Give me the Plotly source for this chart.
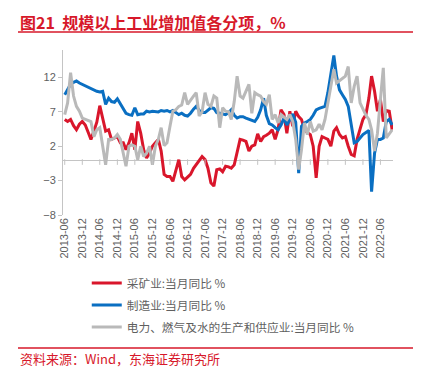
import pandas as pd
import plotly.graph_objects as go

months = [d.strftime("%Y-%m-%d") for d in pd.date_range("2013-06-01", periods=113, freq="MS")]
tick_vals = [d.strftime("%Y-%m-%d") for d in pd.date_range("2013-06-01", "2022-06-01", freq="6MS")]
tick_text = [d[:7] for d in tick_vals]

mining = [5.9, 5.6, 5.9, 5.0, 4.4, 5.2, 5.6, 5.1, 4.0, 3.0, 4.2, 5.5, 7.9, 5.9, 4.2, 4.4, 3.0, 3.2, 3.4, 2.5,
          2.5, 1.5, 2.5, 3.9, 1.5, 5.6, 3.9, 1.5, 0.3, 1.0, 2.0, 2.5, 3.0, 1.3, -2.1, -2.4, -2.4, -3.1, -1.7, 0.05,
          -2.4, -2.9, -2.5, -2.1, -1.2, -0.7, -0.2, 0.5, 0.05, -1.2, -3.3, -3.8, -1.4, -1.3, -1.7, -0.9, -1.0, -1.2, -0.7, 1.0,
          3.0, 2.9, 2.7, 1.3, 2.0, 2.2, 3.8, 2.7, 3.4, 3.6, 3.9, 4.4, 3.0, 4.4, 7.3, 6.6, 3.9, 7.1, 4.9, 7.1,
          6.3, 5.9, 4.4, 4.0, 3.7, 2.0, -2.6, 2.0, 3.4, 3.2, 3.0, 2.0, 4.2, 4.7, 3.7, 3.2, 3.4, 2.0, 0.8, 0.6,
          3.0, 4.5, 5.9, 6.6, 9.0, 12.2, 10.0, 7.1, 8.8, 5.6, 7.2, 7.1, 4.4]

manufacturing = [9.5, 10.2, 11.0, 11.3, 11.5, 11.2, 11.0, 10.7, 10.5, 10.3, 10.2, 10.0, 9.9, 10.0, 8.1, 9.0, 8.5, 8.4, 8.9, 8.1,
                 7.3, 6.8, 6.6, 6.5, 7.6, 6.6, 6.7, 6.7, 7.1, 7.0, 7.1, 7.1, 7.0, 7.2, 7.1, 7.2, 7.0, 7.2, 6.9, 6.6,
                 6.8, 6.5, 6.4, 6.8, 7.4, 7.8, 7.2, 6.9, 6.9, 7.2, 7.6, 7.5, 6.9, 6.8, 6.7, 6.6, 6.9, 7.3, 6.5, 6.1,
                 6.3, 6.3, 6.1, 5.9, 5.8, 5.6, 6.2, 7.3, 9.0, 6.5, 5.3, 5.1, 4.7, 4.4, 5.1, 6.1, 5.1, 6.0, 6.7, 5.5,
                 -1.9, 4.9, 5.4, 5.6, 5.9, 6.5, 7.3, 7.5, 7.6, 7.8, 9.8, 12.7, 15.2, 12.2, 10.2, 9.5, 8.8, 7.8, 5.4, 2.5,
                 2.7, 3.2, 3.7, 4.0, 4.3, -4.6, 1.0, 3.0, 3.0, 3.2, 5.6, 5.9, 5.1]

utilities = [6.6, 8.3, 12.7, 9.3, 7.8, 7.1, 6.1, 5.9, 5.7, 5.6, 3.4, 4.4, 4.7, 2.0, -0.7, 3.0, 3.0, 3.2, 3.7, 3.0,
             1.0, -0.9, 2.0, 2.2, 2.0, 0.05, 2.0, 0.5, 1.0, 2.0, -0.7, 2.0, 3.0, 4.7, 2.1, 2.5, 4.9, 7.1, 7.3, 7.8,
             8.0, 9.8, 8.1, 8.8, 9.3, 9.8, 6.4, 7.0, 9.8, 8.1, 7.8, 9.3, 9.0, 4.7, 7.6, 7.1, 7.0, 5.9, 8.5, 12.2,
             9.3, 9.0, 10.0, 11.0, 6.8, 9.8, 9.5, 9.3, 8.5, 8.1, 9.5, 5.9, 6.6, 5.4, 6.6, 6.3, 5.9, 6.6, 5.6, 3.0,
             -1.4, 1.5, 5.4, 3.7, 5.6, 4.2, 4.4, 5.2, 4.4, 5.9, 8.1, 10.7, 13.2, 11.2, 11.5, 11.8, 12.2, 13.6, 8.3, 10.7,
             12.2, 8.3, 7.3, 6.5, 5.9, 4.4, 1.3, 3.9, 8.8, 13.4, 3.2, 3.9, 4.4]

y_ticks = [12, 7, 2, -3, -8]

names = ["采矿业:当月同比 %", "制造业:当月同比 %", "电力、燃气及水的生产和供应业:当月同比 %"]
colors = ["#d9162b", "#0a6fc2", "#b9b9b9"]
series = [mining, manufacturing, utilities]

RED = "#d7182a"
GRAY_TXT = "#5f5f5f"
AXIS = "#c4c4c4"

fig = go.Figure()
for i, (nm, col, vals) in enumerate(zip(names, colors, series)):
    fig.add_trace(go.Scatter(x=months, y=vals, mode="lines", name=nm,
                             line=dict(color=col, width=3), legendgroup=str(i)))

# small tick marks hanging below the zero line at each labelled date
fig.add_trace(go.Scatter(x=tick_vals, y=[-0.3] * len(tick_vals), mode="markers",
                         marker=dict(symbol="line-ns", size=4, line=dict(color=AXIS, width=1)),
                         showlegend=False, hoverinfo="skip", cliponaxis=False))

x_range = ["2013-05-14", "2022-10-10"]
fig.update_layout(
    width=413, height=362,
    margin=dict(l=55, r=28, t=42, b=155, autoexpand=False),
    paper_bgcolor="white", plot_bgcolor="white",
    font=dict(family="Liberation Sans, Arial, Noto Sans CJK SC", color=GRAY_TXT, size=11),
    showlegend=True,
    legend=dict(x=0.072, y=-0.324, xanchor="left", yanchor="top", orientation="v",
                font=dict(size=11.7, color=GRAY_TXT, family="Noto Sans CJK SC, Liberation Sans"),
                tracegroupgap=3, itemwidth=30, bgcolor="rgba(0,0,0,0)"),
    xaxis=dict(type="date", range=x_range, tickvals=tick_vals, ticktext=tick_text,
               tickangle=-90, showgrid=False, showline=False, ticks="", zeroline=False,
               automargin=False, tickfont=dict(size=11, color=GRAY_TXT)),
    yaxis=dict(range=[-8, 16], tickvals=y_ticks, showgrid=False, zeroline=True,
               zerolinecolor=AXIS, zerolinewidth=1,
               showline=True, linecolor=AXIS, linewidth=1, ticks="outside", ticklen=4, automargin=False,
               tickcolor=AXIS, tickfont=dict(size=11, color=GRAY_TXT)),
)

# title (paper coords referenced to the plot area), box top at the figure top
fig.add_annotation(xref="paper", yref="paper", x=(18 - 63) / 330, y=(215.3 - 8.5) / 165,
                   xanchor="left", yanchor="top", showarrow=False,
                   text="<b>图21  规模以上工业增加值各分项，%</b>",
                   font=dict(size=16, color=RED, family="Noto Sans CJK SC"))
# footer
fig.add_annotation(xref="paper", yref="paper", x=(18 - 63) / 330, y=(215.3 - 359) / 165,
                   xanchor="left", yanchor="middle", showarrow=False,
                   text="资料来源：Wind，东海证券研究所",
                   font=dict(size=13, color=RED, family="Noto Sans CJK SC"))
# red rules
for yy in (32.3, 348.3):
    fig.add_shape(type="line", xref="paper", yref="paper",
                  x0=(18 - 63) / 330, x1=(420 - 63) / 330,
                  y0=(215.3 - yy) / 165, y1=(215.3 - yy) / 165,
                  line=dict(color=RED, width=1.5))

fig.write_html("out.html")
